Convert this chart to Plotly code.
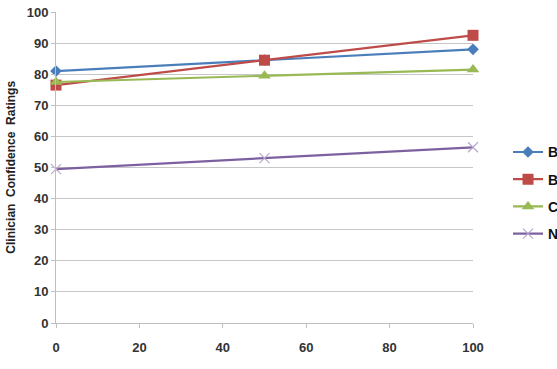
import plotly.graph_objects as go

x_vals = [0, 50, 100]
series_names = ["Blinded A", "Blinded B", "Control", "None"]
blue_vals = [81, 84.5, 88]
red_vals = [76.5, 84.5, 92.5]
green_vals = [77.5, 79.5, 81.5]
purple_vals = [49.5, 53, 56.5]
x_ticks = [0, 20, 40, 60, 80, 100]
y_ticks = [0, 10, 20, 30, 40, 50, 60, 70, 80, 90, 100]

styles = [
    dict(color="#4A7EBB", symbol="diamond", size=9, mcolor="#4A7EBB", lw=0),
    dict(color="#BE4B48", symbol="square", size=11, mcolor="#BE4B48", lw=0),
    dict(color="#98B954", symbol="triangle-up", size=11, mcolor="#98B954", lw=0),
    dict(color="#7D60A0", symbol="x-thin", size=10, mcolor="#B9A7CF", lw=1.2),
]
data = [blue_vals, red_vals, green_vals, purple_vals]

fig = go.Figure()
for i, (name, vals, st) in enumerate(zip(series_names, data, styles)):
    fig.add_trace(go.Scatter(
        x=x_vals, y=vals, name=name, mode="lines+markers",
        legendgroup=f"g{i}",
        line=dict(color=st["color"], width=2.2),
        marker=dict(symbol=st["symbol"], size=st["size"], color=st["mcolor"],
                    line=dict(color=st["mcolor"], width=st["lw"])),
        cliponaxis=False,
    ))

axis_font = dict(family="Liberation Sans", size=13, color="#333333", weight="bold")
fig.update_layout(
    width=557, height=369,
    margin=dict(l=56, r=84, t=12, b=46, autoexpand=False),
    plot_bgcolor="white", paper_bgcolor="white",
    showlegend=True,
    legend=dict(x=1.084, y=0.6, xanchor="left", yanchor="top",
                font=dict(family="Liberation Sans", size=14, color="#111111", weight="bold"),
                tracegroupgap=6, bgcolor="rgba(0,0,0,0)"),
    xaxis=dict(range=[0, 100], tickvals=x_ticks, showgrid=False,
               showline=True, linecolor="#BFBFBF", linewidth=1,
               ticks="outside", ticklen=4, tickcolor="#BFBFBF",
               tickfont=axis_font, ticklabelstandoff=8, zeroline=False),
    yaxis=dict(range=[0, 100], tickvals=y_ticks, showgrid=True,
               gridcolor="#C6C6C6", gridwidth=1,
               showline=True, linecolor="#BFBFBF", linewidth=1,
               ticks="outside", ticklen=4, tickcolor="#BFBFBF",
               tickfont=axis_font, zeroline=False),
)

fig.add_annotation(
    text="<b>Clinician  Confidence  Ratings</b>", textangle=-90,
    xref="paper", yref="paper", x=-0.11, y=0.5, xanchor="center", yanchor="middle",
    showarrow=False, font=dict(family="Liberation Sans", size=12, color="#222222"),
)

fig.write_html("out.html")
